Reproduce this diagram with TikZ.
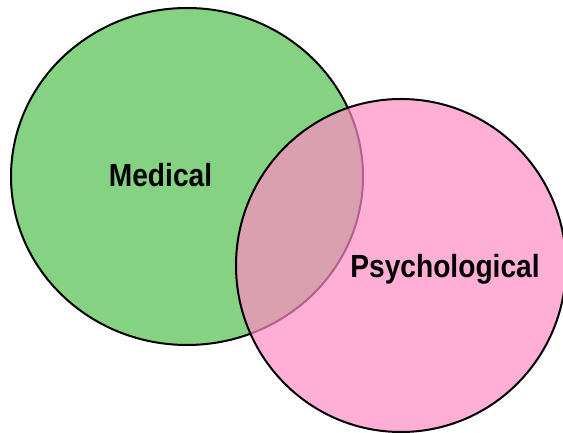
\documentclass[tikz,border=0pt]{standalone}
\usepackage{fontspec}
\newfontfamily\vennfont[FakeStretch=0.88]{Liberation Sans}
\definecolor{vgreen}{HTML}{86D283}
\definecolor{vpink}{HTML}{FF8BC4}
\usetikzlibrary{shapes.geometric,positioning}

\begin{document}
\begin{tikzpicture}[
  x=1pt, y=1pt,
  set/.style={ellipse, draw=black, line width=2pt, inner sep=0pt,
    fill=#1, minimum width=2*\vrx pt, minimum height=2*\vry pt},
  lbl/.style={font=\vennfont\bfseries\fontsize{32}{32}\selectfont,
    anchor=base, inner sep=0pt}
]
  \useasboundingbox (0,0) rectangle (563,433);

  % Sets
  \def\vrx{176}\def\vry{168.5}
  \node[set=vgreen] (med) at (187,256.5) {};
  \def\vrx{165}\def\vry{166.5}
  \node[set=vpink, fill opacity=0.7] (psy) at (401,167.5) {};

  % Labels
  \node[lbl] (medlbl) at (160.5,246.3) {Medical};
  \node[lbl] (psylbl) at (445,155) {Psychological};
\end{tikzpicture}
\end{document}
